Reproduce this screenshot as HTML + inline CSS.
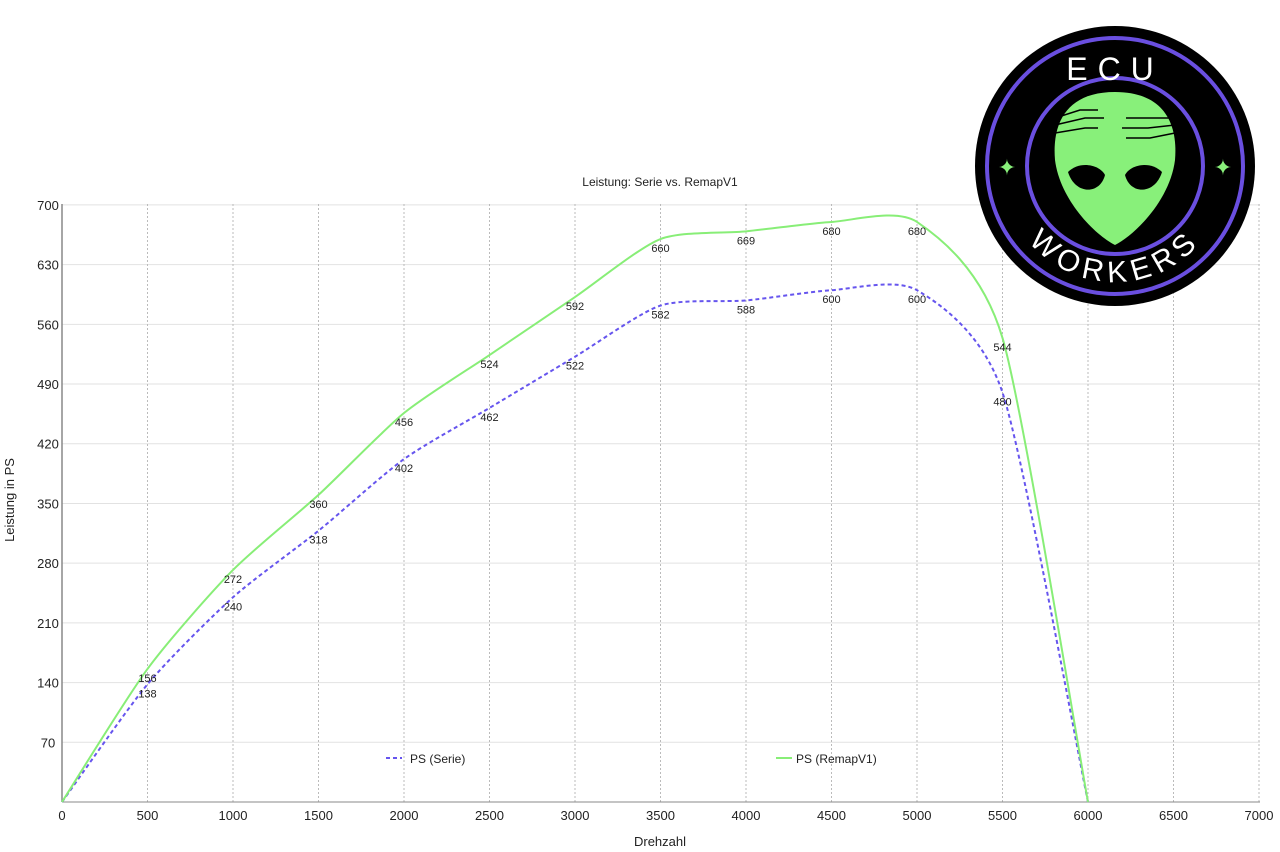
<!DOCTYPE html>
<html><head><meta charset="utf-8"><style>
html,body{margin:0;padding:0;background:#fff;}
svg{display:block;font-family:"Liberation Sans",Arial,sans-serif;}
</style></head><body>
<svg id="s" width="1280" height="852" xmlns="http://www.w3.org/2000/svg">
<g id="grid"></g>
<text x="660" y="186" font-size="12" text-anchor="middle" fill="#222">Leistung: Serie vs. RemapV1</text>
<text x="660" y="846" font-size="13" text-anchor="middle" fill="#222">Drehzahl</text>
<text transform="translate(14,500) rotate(-90)" font-size="13" text-anchor="middle" fill="#222">Leistung in PS</text>
<line x1="62" y1="204" x2="62" y2="802" stroke="#888" stroke-width="1.5"/>
<line x1="62" y1="802" x2="1260" y2="802" stroke="#888" stroke-width="1"/>
<path id="pB" fill="none" stroke="#6655ee" stroke-width="2" stroke-dasharray="4,3"/>
<path id="pG" fill="none" stroke="#88ee77" stroke-width="2"/>
<g id="lab" font-size="11" fill="#222" text-anchor="middle"></g>
<line x1="386" y1="758" x2="402" y2="758" stroke="#6655ee" stroke-width="2" stroke-dasharray="4,3"/>
<text x="410" y="763" font-size="12" fill="#222">PS (Serie)</text>
<line x1="776" y1="758" x2="792" y2="758" stroke="#88ee77" stroke-width="2"/>
<text x="796" y="763" font-size="12" fill="#222">PS (RemapV1)</text>
<g>
<circle cx="1115" cy="166" r="140" fill="#000"/>
<circle cx="1115" cy="166" r="128" fill="none" stroke="#6a4fe0" stroke-width="4"/>
<circle cx="1115" cy="166" r="88" fill="none" stroke="#6a4fe0" stroke-width="4"/>
<path d="M1115 92 C1165 92 1178 125 1175 160 C1170 200 1135 235 1115 245 C1095 235 1060 200 1055 160 C1052 125 1065 92 1115 92 Z" fill="#88f07a"/>
<path d="M1068 172 C1080 160 1100 165 1105 175 C1100 195 1075 195 1068 172 Z" fill="#000"/>
<path d="M1162 172 C1150 160 1130 165 1125 175 C1130 195 1155 195 1162 172 Z" fill="#000"/>
<g stroke="#000" stroke-width="1.5" fill="none">
<path d="M1055 118 L1080 110 L1098 110"/><path d="M1055 125 L1085 118 L1104 118"/><path d="M1055 133 L1085 128 L1098 128"/>
<path d="M1175 118 L1150 118 L1126 118"/><path d="M1175 125 L1148 128 L1122 128"/><path d="M1175 133 L1150 138 L1126 138"/>
</g>
<text x="1115" y="80" font-size="32" fill="#fff" text-anchor="middle" letter-spacing="10">ECU</text>
<path id="arc" d="M1003 170 A112 112 0 0 0 1227 170" fill="none"/>
<text font-size="30" fill="#fff" letter-spacing="6"><textPath href="#arc" startOffset="50%" text-anchor="middle">WORKERS</textPath></text>
<text x="1007" y="175" font-size="22" fill="#88f07a" text-anchor="middle">✦</text>
<text x="1223" y="175" font-size="22" fill="#88f07a" text-anchor="middle">✦</text>
</g>
</svg>
<script>
var X=v=>62+v*0.171, Y=v=>802-v*0.853;
var g=document.getElementById('grid'),s='';
for(var i=1;i<=10;i++){s+='<line x1="62" x2="1260" y1="'+Y(i*70)+'" y2="'+Y(i*70)+'" stroke="#e2e2e2"/>';
s+='<text x="48" y="'+(Y(i*70)+5)+'" font-size="13" text-anchor="middle" fill="#222">'+(i*70)+'</text>';}
for(var i=0;i<=14;i++){if(i>0)s+='<line y1="204" y2="802" x1="'+X(i*500)+'" x2="'+X(i*500)+'" stroke="#bbb" stroke-dasharray="2,2"/>';
s+='<text y="820" x="'+X(i*500)+'" font-size="13" text-anchor="middle" fill="#222">'+(i*500)+'</text>';}
g.innerHTML=s;
var G=[0,156,272,360,456,524,592,660,669,680,680,544,0],B=[0,138,240,318,402,462,522,582,588,600,600,480,0];
function path(a){var p=a.map((v,i)=>[X(i*500),Y(v)]),d='M'+p[0];
for(var i=0;i<p.length-1;i++){var p0=p[i-1]||p[i],p1=p[i],p2=p[i+1],p3=p[i+2]||p2,t=0.12;
d+=' C'+(p1[0]+(p2[0]-p0[0])*t)+','+(p1[1]+(p2[1]-p0[1])*t)+' '+(p2[0]-(p3[0]-p1[0])*t)+','+(p2[1]-(p3[1]-p1[1])*t)+' '+p2;}return d;}
document.getElementById('pG').setAttribute('d',path(G));
document.getElementById('pB').setAttribute('d',path(B));
var l='';for(var i=1;i<12;i++){l+='<text x="'+X(i*500)+'" y="'+(Y(G[i])+13)+'">'+G[i]+'</text><text x="'+X(i*500)+'" y="'+(Y(B[i])+13)+'">'+B[i]+'</text>';}
document.getElementById('lab').innerHTML=l;
</script>
</body></html>
